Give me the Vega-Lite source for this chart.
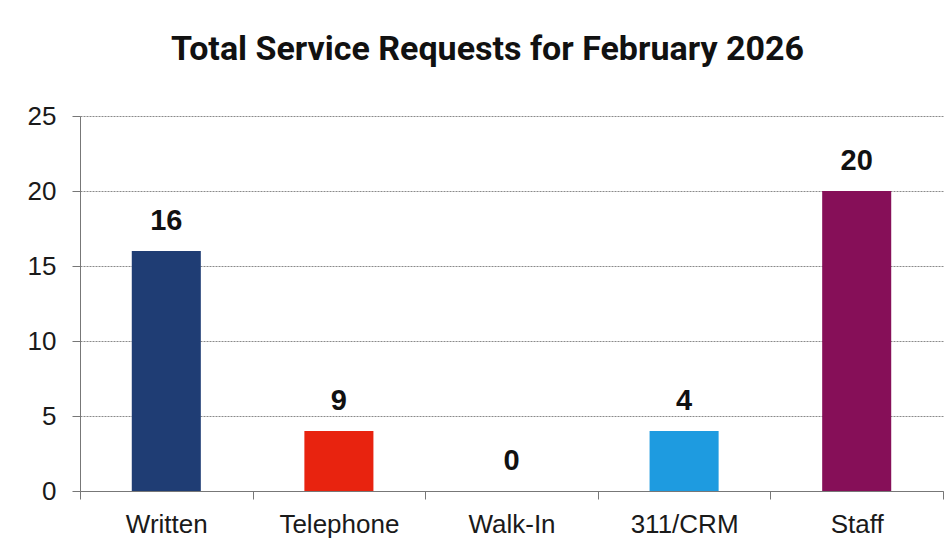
{
  "$schema": "https://vega.github.io/schema/vega-lite/v6.json",
  "autosize": "none",
  "width": 863,
  "height": 375,
  "padding": {"left": 80, "top": 116, "right": 7, "bottom": 51},
  "background": "white",
  "title": {
    "text": "Total Service Requests for February 2026",
    "font": "Roboto",
    "fontSize": 34,
    "fontWeight": "bold",
    "color": "#111111",
    "anchor": "middle",
    "frame": "group",
    "dx": -24,
    "offset": 36
  },
  "data": {
    "values": [
      {"category": "Written", "value": 16, "label": "16"},
      {"category": "Telephone", "value": 4, "label": "9"},
      {"category": "Walk-In", "value": 0, "label": "0"},
      {"category": "311/CRM", "value": 4, "label": "4"},
      {"category": "Staff", "value": 20, "label": "20"}
    ]
  },
  "config": {
    "view": {"stroke": null},
    "axis": {"labelFont": "Liberation Sans", "labelColor": "#1a1a1a"}
  },
  "encoding": {
    "x": {
      "field": "category",
      "type": "nominal",
      "sort": null,
      "scale": {"paddingInner": 0, "paddingOuter": 0},
      "axis": {
        "title": null,
        "labelAngle": 0,
        "labelFontSize": 26,
        "tickBand": "extent",
        "tickSize": 8,
        "tickColor": "#777777",
        "domainColor": "#777777",
        "labelPadding": 12
      }
    },
    "y": {
      "field": "value",
      "type": "quantitative",
      "scale": {"domain": [0, 25], "nice": false},
      "axis": {
        "title": null,
        "values": [0, 5, 10, 15, 20, 25],
        "labelFontSize": 26,
        "tickSize": 8,
        "tickColor": "#777777",
        "domainColor": "#777777",
        "gridColor": "#8a8a8a",
        "gridWidth": 1,
        "gridDash": [2, 1],
        "labelPadding": 16
      }
    }
  },
  "layer": [
    {
      "mark": {"type": "bar", "width": {"band": 0.4}},
      "encoding": {
        "color": {
          "field": "category",
          "type": "nominal",
          "scale": {
            "domain": ["Written", "Telephone", "Walk-In", "311/CRM", "Staff"],
            "range": ["#1f3d74", "#e8230f", "#888888", "#1e9be0", "#860f58"]
          },
          "legend": null
        }
      }
    },
    {
      "mark": {
        "type": "text",
        "baseline": "bottom",
        "dy": -15,
        "font": "Liberation Sans",
        "fontSize": 29,
        "fontWeight": "bold",
        "color": "#111111"
      },
      "encoding": {"text": {"field": "label"}}
    }
  ]
}
